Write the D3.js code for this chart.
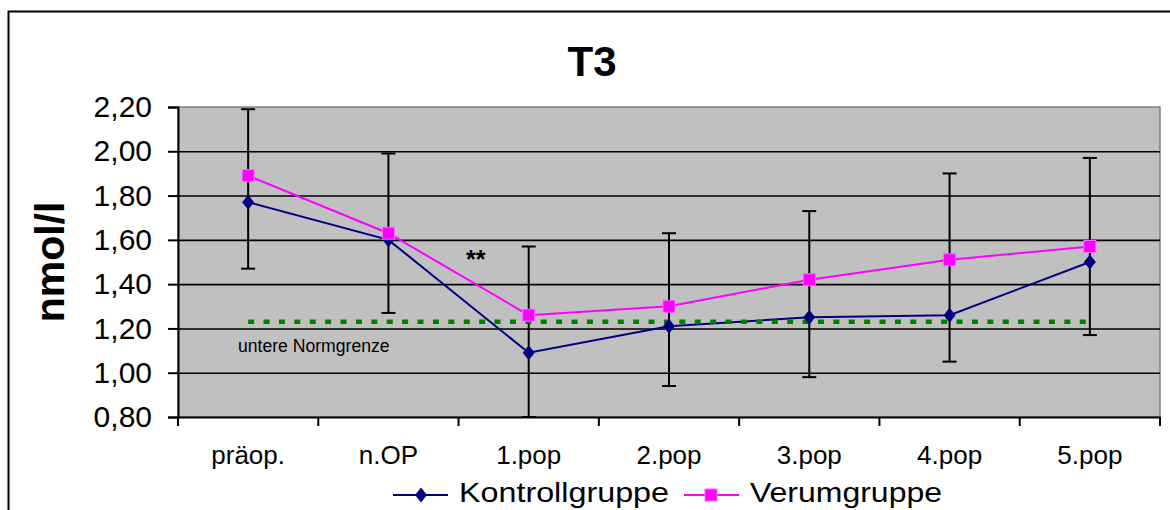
<!DOCTYPE html>
<html>
<head>
<meta charset="utf-8">
<script src="https://cdn.jsdelivr.net/npm/d3@7"></script>
<style>
  body { margin: 0; background: #fff; }
  svg { display: block; font-family: "Liberation Sans", Arial, sans-serif; }
</style>
</head>
<body>
<div id="chart"></div>
<script>
// DATA
const categories = ["präop.", "n.OP", "1.pop", "2.pop", "3.pop", "4.pop", "5.pop"];
const kontroll   = [1.77, 1.60, 1.09, 1.21, 1.25, 1.26, 1.50];
const kontrollSD = [0.30, 0.33, 0.29, 0.27, 0.27, 0.21, 0.33];   // drawn downwards only
const verum      = [1.89, 1.63, 1.26, 1.30, 1.42, 1.51, 1.57];
const verumSD    = [0.30, 0.36, 0.31, 0.33, 0.31, 0.39, 0.40];   // drawn upwards only
const normgrenze = 1.23;
const yTicks = [0.8, 1.0, 1.2, 1.4, 1.6, 1.8, 2.0, 2.2];
const seriesNames = ["Kontrollgruppe", "Verumgruppe"];

// LAYOUT
const W = 1170, H = 510;
const plot = { left: 178, right: 1160, top: 107, bottom: 417 };
const navy = "#000080", magenta = "#FF00FF", green = "#008000";

const svg = d3.select("#chart").append("svg")
  .attr("width", W)
  .attr("height", H);

const x = d3.scaleBand(categories, [plot.left, plot.right]).padding(0);
const y = d3.scaleLinear([0.8, 2.2], [plot.bottom, plot.top]);
const cx = d => x(d) + x.bandwidth() / 2;

// outer frame (runs past the right/bottom edge like the original)
svg.append("rect")
  .attr("x", 8.5).attr("y", 11.5)
  .attr("width", W + 20).attr("height", H + 20)
  .attr("fill", "none").attr("stroke", "#000").attr("stroke-width", 2);

// PLOT AREA
svg.append("rect")
  .attr("x", plot.left).attr("y", plot.top)
  .attr("width", plot.right - plot.left).attr("height", plot.bottom - plot.top)
  .attr("fill", "#C0C0C0").attr("stroke", "#808080").attr("stroke-width", 1.5);

// gridlines
svg.append("g")
  .attr("transform", `translate(${plot.left},0)`)
  .call(d3.axisLeft(y).tickValues(yTicks.slice(1, -1)).tickSize(-(plot.right - plot.left)).tickFormat(""))
  .call(g => g.select(".domain").remove())
  .call(g => g.selectAll("line").attr("stroke", "#000").attr("stroke-width", 1.6));

// Y AXIS
svg.append("g")
  .attr("transform", `translate(${plot.left},0)`)
  .call(d3.axisLeft(y).tickValues(yTicks).tickSize(10).tickPadding(16)
    .tickFormat(d => d.toFixed(2).replace(".", ",")))
  .call(g => g.select(".domain").attr("stroke", "#000").attr("stroke-width", 2))
  .call(g => g.selectAll("line").attr("stroke", "#000").attr("stroke-width", 2))
  .call(g => g.selectAll("text").attr("font-size", 30).attr("fill", "#000")
    .attr("font-family", "Liberation Sans, Arial, sans-serif"));

// X AXIS (ticks between categories, labels at centres)
svg.append("g")
  .attr("transform", `translate(0,${plot.bottom})`)
  .call(d3.axisBottom(x).tickSize(0).tickPadding(29))
  .call(g => g.select(".domain").attr("stroke", "#000").attr("stroke-width", 2))
  .call(g => g.selectAll("text").attr("font-size", 26).attr("fill", "#000")
    .attr("font-family", "Liberation Sans, Arial, sans-serif"));

svg.append("g").selectAll("line")
  .data(categories.concat(["end"]))
  .enter().append("line")
  .attr("x1", (d, i) => i < categories.length ? x(d) : plot.right)
  .attr("x2", (d, i) => i < categories.length ? x(d) : plot.right)
  .attr("y1", plot.bottom).attr("y2", plot.bottom + 9)
  .attr("stroke", "#000").attr("stroke-width", 2);

// ERROR BARS
const bars = categories.map((c, i) => ({
  c,
  top: verum[i] + verumSD[i],
  low: Math.max(kontroll[i] - kontrollSD[i], 0.8)
}));
const eb = svg.append("g").attr("stroke", "#000").attr("stroke-width", 2);
eb.selectAll(".v").data(bars).enter().append("line")
  .attr("x1", d => cx(d.c)).attr("x2", d => cx(d.c))
  .attr("y1", d => y(d.top)).attr("y2", d => y(d.low));
eb.selectAll(".t").data(bars).enter().append("line")
  .attr("x1", d => cx(d.c) - 7).attr("x2", d => cx(d.c) + 7)
  .attr("y1", d => y(d.top)).attr("y2", d => y(d.top));
eb.selectAll(".b").data(bars).enter().append("line")
  .attr("x1", d => cx(d.c) - 7).attr("x2", d => cx(d.c) + 7)
  .attr("y1", d => y(d.low)).attr("y2", d => y(d.low));

// LINES
const line = d3.line().x(d => cx(d.c)).y(d => y(d.v));
const kData = categories.map((c, i) => ({ c, v: kontroll[i] }));
const vData = categories.map((c, i) => ({ c, v: verum[i] }));

svg.append("path").datum(kData)
  .attr("d", line).attr("fill", "none").attr("stroke", navy).attr("stroke-width", 2);

// lower normal limit
svg.append("line")
  .attr("x1", cx(categories[0])).attr("x2", cx(categories[categories.length - 1]))
  .attr("y1", y(normgrenze)).attr("y2", y(normgrenze))
  .attr("stroke", green).attr("stroke-width", 4.5).attr("stroke-dasharray", "6 9.4");

svg.append("path").datum(vData)
  .attr("d", line).attr("fill", "none").attr("stroke", magenta).attr("stroke-width", 2);

// MARKERS
const diamond = "M0,-7.5L6,0L0,7.5L-6,0Z";
svg.append("g").selectAll("path").data(kData).enter().append("path")
  .attr("d", diamond)
  .attr("transform", d => `translate(${cx(d.c)},${y(d.v)})`)
  .attr("fill", navy);

svg.append("g").selectAll("rect").data(vData).enter().append("rect")
  .attr("x", d => cx(d.c) - 6).attr("y", d => y(d.v) - 6)
  .attr("width", 12).attr("height", 12)
  .attr("fill", magenta).attr("stroke", "#FF66FF").attr("stroke-width", 1);

// ANNOTATIONS
svg.append("text")
  .attr("x", 466).attr("y", 268)
  .attr("font-size", 25).attr("font-weight", "bold")
  .text("**");

svg.append("text")
  .attr("x", 238).attr("y", 352)
  .attr("font-size", 17.6)
  .text("untere Normgrenze");

// TITLES
svg.append("text")
  .attr("x", 592).attr("y", 76)
  .attr("text-anchor", "middle")
  .attr("font-size", 42).attr("font-weight", "bold")
  .text("T3");

svg.append("text")
  .attr("transform", `translate(64,${(plot.top + plot.bottom) / 2}) rotate(-90)`)
  .attr("text-anchor", "middle")
  .attr("font-size", 41).attr("font-weight", "bold")
  .text("nmol/l");

// LEGEND
const legend = svg.append("g");
const legendItems = [
  { name: seriesNames[0], color: navy, x: 393, marker: "diamond", width: 210 },
  { name: seriesNames[1], color: magenta, x: 684, marker: "square", width: 192 }
];
legendItems.forEach(it => {
  const g = legend.append("g").attr("transform", `translate(${it.x},495)`);
  g.append("line").attr("x1", 0).attr("x2", 55).attr("y1", 0).attr("y2", 0)
    .attr("stroke", it.color).attr("stroke-width", 2);
  if (it.marker === "diamond") {
    g.append("path").attr("d", diamond).attr("transform", "translate(28,0)").attr("fill", it.color);
  } else {
    g.append("rect").attr("x", 21).attr("y", -6).attr("width", 12).attr("height", 12)
      .attr("fill", it.color).attr("stroke", "#FF66FF");
  }
  g.append("text").attr("x", 66).attr("y", 7).attr("font-size", 28)
    .attr("textLength", it.width).attr("lengthAdjust", "spacingAndGlyphs")
    .text(it.name);
});
</script>
</body>
</html>
